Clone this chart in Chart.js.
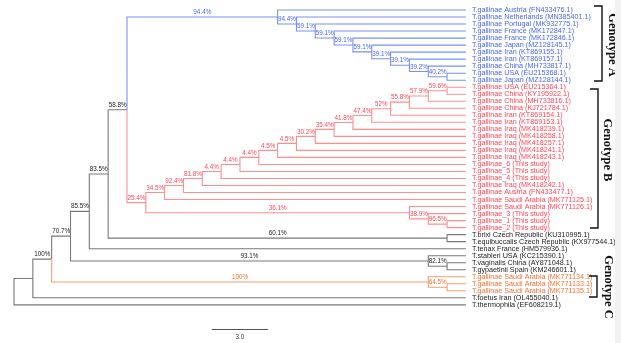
<!DOCTYPE html>
<html>
<head>
<meta charset="utf-8">
<script src="https://cdn.jsdelivr.net/npm/chart.js"></script>
<style>
  html, body { margin: 0; padding: 0; background: #fff; }
  #wrap { position: relative; width: 621px; height: 343px; }
</style>
</head>
<body>
<div id="wrap"><canvas id="tree" width="621" height="343"></canvas></div>
<script>
// tips, top to bottom
const leafNames = [
    'T.gallinae Austria (FN433476.1)', 'T.gallinae Netherlands (MN385401.1)', 'T.gallinae Portugal (MK932775.1)',
    'T.gallinae France (MK172847.1)', 'T.gallinae France (MK172846.1)', 'T.gallinae Japan (MZ128145.1)',
    'T.gallinae Iran (KT869155.1)', 'T.gallinae Iran (KT869157.1)', 'T.gallinae China (MH733817.1)',
    'T.gallinae USA (EU215368.1)', 'T.gallinae Japan (MZ128144.1)',
    'T.gallinae USA (EU215364.1)', 'T.gallinae China (KY195922.1)', 'T.gallinae China (MH733816.1)',
    'T.gallinae China (KJ721784.1)', 'T.gallinae Iran (KT869154.1)', 'T.gallinae Iran (KT869153.1)',
    'T.gallinae Iraq (MK418239.1)', 'T.gallinae Iraq (MK418258.1)', 'T.gallinae Iraq (MK418257.1)',
    'T.gallinae Iraq (MK418241.1)', 'T.gallinae Iraq (MK418243.1)', 'T.gallinae_6 (This study)',
    'T.gallinae_5 (This study)', 'T.gallinae_4 (This study)', 'T.gallinae Iraq (MK418242.1)',
    'T.gallinae Austria (FN433477.1)', 'T.gallinae Saudi Arabia (MK771125.1)', 'T.gallinae Saudi Arabia (MK771126.1)',
    'T.gallinae_3 (This study)', 'T.gallinae_1 (This study)', 'T.gallinae_2 (This study)',
    'T.brixi Czech Republic (KU310995.1)', 'T.equibuccalis Czech Republic (KX977544.1)', 'T.tenax France (HM579936.1)',
    'T.stableri USA (KC215390.1)', 'T.vaginalis China (AY871048.1)', 'T.gypaetinii Spain (KM246601.1)',
    'T.gallinae Saudi Arabia (MK771134.1)', 'T.gallinae Saudi Arabia (MK771133.1)', 'T.gallinae Saudi Arabia (MK771135.1)',
    'T.foetus Iran (OL455040.1)', 'T.thermophila (EF608219.1)'
];
const leafClade = [
    'A','A','A','A','A','A','A','A','A','A','A',
    'B','B','B','B','B','B','B','B','B','B','B','B','B','B','B','B','B','B','B','B','B',
    'O','O','O','O','O','O','C','C','C','O','O'
];
const leafParent = [
    'A0','A1','A2','A3','A4','A5','A6','A7','A8','A9','A9',
    'B16','B16','B15','B14','B13','B12','B11','B10','B9','B8','B7','B6','B5','B4','B3','B2','B1','Bs','Bt','Bu','Bu',
    'Bx','Bx','N4','S','S2','S2','O','O2','O2','N1','root'
];

// internal nodes
const nodeNames   = ['root','N1','N2','N3','N4','N5','N6',
    'A0','A1','A2','A3','A4','A5','A6','A7','A8','A9',
    'B0','B1','B2','B3','B4','B5','B6','B7','B8','B9','B10','B11','B12','B13','B14','B15','B16',
    'Bs','Bt','Bu','Bx','S','S2','O','O2'];
const nodeParent  = [null,'root','N1','N2','N3','N4','N5',
    'N6','A0','A1','A2','A3','A4','A5','A6','A7','A8',
    'N6','B0','B1','B2','B3','B4','B5','B6','B7','B8','B9','B10','B11','B12','B13','B14','B15',
    'B0','Bs','Bt','N5','N3','S','N2','O'];
const nodeDepth   = [0,1,2,3,4,5,6,
    14,15,16,17,18,19,20,21,22,23,
    7,8,9,10,11,12,13,14,15,16,17,18,19,20,21,22,23,
    21,22,23,23,22,23,22,23];
const nodeSupport = ['','','100%','70.7%','85.5%','83.5%','58.8%',
    '94.4%','94.4%','59.1%','59.1%','59.1%','59.1%','39.1%','39.1%','39.2%','40.2%',
    '25.4%','34.5%','92.4%','81.8%','4.4%','4.4%','4.4%','4.5%','4.5%','30.2%','35.4%','41.8%','47.4%','52%','55.8%','57.9%','59.6%',
    '36.1%','38.9%','96.5%','60.1%','93.1%','82.1%','100%','64.5%'];

const tipDepth = 24;
const scaleBar = 3.0;
const genotypes = ['Genotype A', 'Genotype B', 'Genotype C'];

const lineColor = { A: '#7b91f4', B: '#ff8f8f', C: '#f4a06c', O: '#7a7a7a' };
const textColor = { A: '#4a68ef', B: '#ff4757', C: '#ef7436', O: '#222222' };

// layout of the tree
const idx = Object.fromEntries(nodeNames.map((n, i) => [n, i]));
const kids = nodeNames.map(() => []);
leafParent.forEach((p, i) => kids[idx[p]].push({ leaf: true, i }));
nodeParent.forEach((p, i) => { if (p) kids[idx[p]].push({ leaf: false, i }); });

const nodeY = [], nodeClade = [];
function place(i) {
    const ys = [], cl = new Set();
    kids[i].forEach(k => {
        if (k.leaf) { ys.push(k.i); cl.add(leafClade[k.i]); }
        else { place(k.i); ys.push(nodeY[k.i]); cl.add(nodeClade[k.i]); }
    });
    nodeY[i] = (Math.min(...ys) + Math.max(...ys)) / 2;
    nodeClade[i] = cl.size === 1 ? [...cl][0] : 'O';
}
place(idx.root);

const paths = { A: [], B: [], C: [], O: [] };
nodeNames.forEach((n, p) => {
    kids[p].forEach(k => {
        const cy = k.leaf ? k.i : nodeY[k.i];
        const cx = k.leaf ? tipDepth : nodeDepth[k.i];
        const c = k.leaf ? leafClade[k.i] : nodeClade[k.i];
        paths[c].push({ x: nodeDepth[p], y: nodeY[p] }, { x: nodeDepth[p], y: cy }, { x: cx, y: cy }, { x: cx, y: null });
    });
});

const datasets = Object.keys(paths).map(c => ({
    data: paths[c],
    showLine: true,
    spanGaps: false,
    borderColor: lineColor[c],
    borderWidth: 1.1,
    pointRadius: 0,
    tension: 0
}));

const labelsPlugin = {
    id: 'treeLabels',
    afterDatasetsDraw(chart) {
        const ctx = chart.ctx, xs = chart.scales.x, ys = chart.scales.y;
        ctx.save();

        // tip labels
        ctx.font = '7.2px "Liberation Sans", Arial, sans-serif';
        ctx.textBaseline = 'middle';
        ctx.textAlign = 'left';
        leafNames.forEach((name, i) => {
            ctx.fillStyle = textColor[leafClade[i]];
            ctx.fillText(name, xs.getPixelForValue(tipDepth) + 6, ys.getPixelForValue(i));
        });

        // bootstrap values on branches
        ctx.font = '6.3px "Liberation Sans", Arial, sans-serif';
        ctx.textAlign = 'center';
        nodeSupport.forEach((s, i) => {
            if (!s) return;
            const p = idx[nodeParent[i]];
            const mx = xs.getPixelForValue((nodeDepth[p] + nodeDepth[i]) / 2);
            ctx.fillStyle = textColor[nodeClade[i]];
            ctx.fillText(s, mx, ys.getPixelForValue(nodeY[i]) - 4.6);
        });

        // scale bar
        const sx0 = xs.getPixelForValue(10.5), sx1 = xs.getPixelForValue(10.5 + scaleBar);
        ctx.strokeStyle = '#555';
        ctx.lineWidth = 1;
        ctx.beginPath();
        ctx.moveTo(sx0, 329.5); ctx.lineTo(sx1, 329.5);
        ctx.stroke();
        ctx.fillStyle = '#333';
        ctx.fillText(scaleBar.toFixed(1), (sx0 + sx1) / 2, 337);

        // genotype brackets
        const brackets = [
            { top: 6, bottom: 81, x: 602, tx: 612, ty: 45 },
            { top: 89, bottom: 228, x: 598, tx: 607, ty: 150 },
            { top: 276, bottom: 297, x: 597, tx: 608, ty: 287 }
        ];
        ctx.strokeStyle = '#111';
        ctx.lineWidth = 1.4;
        brackets.forEach((b, i) => {
            ctx.beginPath();
            ctx.moveTo(b.x - 8, b.top); ctx.lineTo(b.x, b.top);
            ctx.lineTo(b.x, b.bottom); ctx.lineTo(b.x - 8, b.bottom);
            ctx.stroke();
            ctx.save();
            ctx.translate(b.tx, b.ty);
            ctx.rotate(Math.PI / 2);
            ctx.font = 'bold 12.5px "Liberation Serif", "Times New Roman", serif';
            ctx.fillStyle = '#111';
            ctx.textAlign = 'center';
            ctx.textBaseline = 'middle';
            ctx.fillText(genotypes[i], 0, 0);
            ctx.restore();
        });

        // light strip on the right edge
        ctx.fillStyle = '#f2f2f2';
        ctx.fillRect(615, 0, 6, 343);
        ctx.restore();
    }
};

new Chart(document.getElementById('tree'), {
    type: 'scatter',
    data: { datasets },
    options: {
        responsive: false,
        animation: false,
        layout: { padding: 0 },
        plugins: { legend: { display: false }, tooltip: { enabled: false } },
        scales: {
            x: { type: 'linear', display: false, min: -14 / 18.83, max: (621 - 14) / 18.83 },
            y: { type: 'linear', display: false, reverse: true, min: -10 / 7.02, max: (343 - 10) / 7.02 }
        }
    },
    plugins: [labelsPlugin]
});
</script>
</body>
</html>
